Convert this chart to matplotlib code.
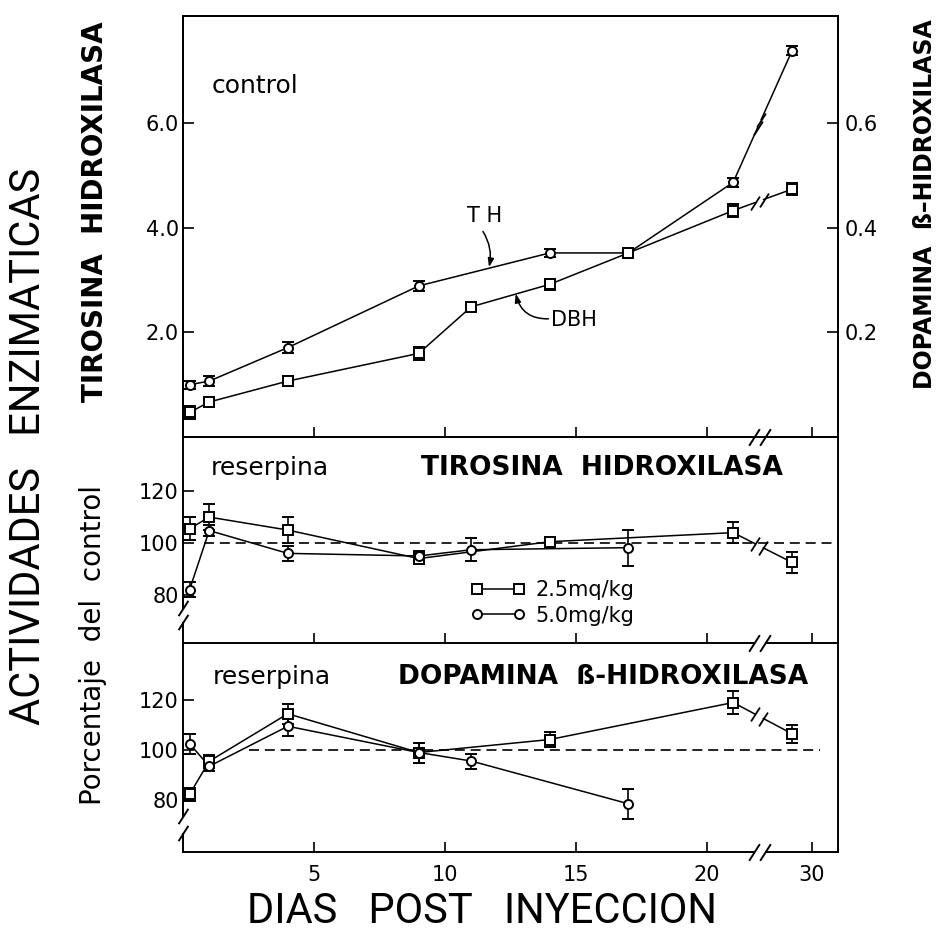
import numpy as np
import matplotlib
matplotlib.use("Agg")
import matplotlib.pyplot as plt
from matplotlib.path import Path

plt.rcParams['font.family'] = ['DejaVu Sans']

# ---------------- data ----------------
# top panel (control)
th_days = [0.25, 1, 4, 9, 14, 17, 21, 27]
th_vals = [1.00, 1.07, 1.71, 2.89, 3.52, 3.52, 4.87, 7.39]
th_err = [0.08, 0.10, 0.10, 0.10, 0.08, 0.08, 0.08, 0.08]

dbh_days = [0.25, 1, 4, 9, 11, 14, 17, 21, 27]
dbh_vals = [0.047, 0.067, 0.107, 0.160, 0.249, 0.292, 0.352, 0.433, 0.474]
dbh_err = [0.012, 0.010, 0.010, 0.012, 0.010, 0.010, 0.008, 0.012, 0.012]

# middle panel (reserpina, tirosina hidroxilasa, % del control)
th25_days = [0.25, 1, 4, 9, 14, 21, 27]
th25_vals = [105.5, 110, 105, 94, 100.5, 104, 92.5]
th25_err = [4.5, 5, 5, 2, 2, 4, 4]
th50_days = [0.25, 1, 4, 9, 11, 17]
th50_vals = [82, 104.8, 96, 95, 97.4, 98.2]
th50_err = [3, 2, 3, 2, 4.5, 7]

# bottom panel (reserpina, dopamina b-hidroxilasa, % del control)
db25_days = [0.25, 1, 4, 9, 14, 21, 27]
db25_vals = [82.3, 95.5, 114.5, 99, 104.2, 119, 106.5]
db25_err = [2.5, 2.5, 4, 4, 3, 4.5, 3.5]
db50_days = [0.25, 1, 4, 9, 11, 17]
db50_vals = [102.5, 93.5, 109.5, 99, 95.6, 78.5]
db50_err = [4, 2, 4, 4, 3, 6]

x_ticks = [5, 10, 15, 20, 30]
x_ticklabels = ['5', '10', '15', '20', '30']
th_ticks = [2, 4, 6]
dbh_ticks = [0.2, 0.4, 0.6]
pct_ticks = [80, 100, 120]
legend_labels = ['2.5mq/kg', '5.0mg/kg']

# ---------------- broken time axis ----------------
BRK = 22.0
K = 0.25


def fwd(d):
    d = np.asarray(d, float)
    return np.where(d <= BRK, d, BRK + (d - BRK) * K)


def inv(p):
    p = np.asarray(p, float)
    return np.where(p <= BRK, p, BRK + (p - BRK) / K)


LW = 1.1
SPW = 1.4
slash = Path([(-0.32, -0.5), (0.32, 0.5)], [Path.MOVETO, Path.LINETO])

fig = plt.figure(figsize=(9.41, 9.47), dpi=100)
L, W = 0.1945, 0.696
ax_top = fig.add_axes([L, 0.5385, W, 0.4446])
ax_mid = fig.add_axes([L, 0.3210, W, 0.2175], sharex=ax_top)
ax_bot = fig.add_axes([L, 0.1003, W, 0.2207], sharex=ax_top)
ax_top.set_xscale('function', functions=(fwd, inv))
ax_top.set_xlim(0, float(inv(25.0)))
ax2 = ax_top.twinx()

ax_top.set_ylim(0, 8.05)
ax2.set_ylim(0, 0.805)
ax_mid.set_ylim(61.4, 140.9)
ax_bot.set_ylim(59.2, 142.8)

for a in (ax_top, ax_mid, ax_bot, ax2):
    a.patch.set_visible(False)
    for s in a.spines.values():
        s.set_linewidth(SPW)


def draw_series(ax, days, vals, errs, marker, ms, half_gap_px=4.5):
    days = np.asarray(days, float)
    vals = np.asarray(vals, float)
    pos = fwd(days)
    xs, ys, brk_x, brk_y = [], [], [], []
    for i in range(len(days)):
        xs.append(days[i]); ys.append(vals[i])
        if i + 1 < len(days) and pos[i] < BRK < pos[i + 1]:
            p0 = ax.transData.transform((days[i], vals[i]))
            p1 = ax.transData.transform((days[i + 1], vals[i + 1]))
            seg = np.hypot(*(p1 - p0))
            t0 = (BRK - pos[i]) / (pos[i + 1] - pos[i])
            dt = half_gap_px / seg
            for side, t in ((0, t0 - dt), (1, t0 + dt)):
                pp = pos[i] + t * (pos[i + 1] - pos[i])
                yv = vals[i] + t * (vals[i + 1] - vals[i])
                xv = float(inv(pp))
                brk_x.append(xv); brk_y.append(yv)
                xs.append(xv); ys.append(yv)
                if side == 0:
                    xs.append(np.nan); ys.append(np.nan)
    ax.plot(xs, ys, color='k', lw=LW, zorder=2)
    if brk_x:
        ax.plot(brk_x, brk_y, ls='none', marker=slash, ms=10, mec='k', mew=1.3, zorder=3)
    ax.errorbar(days, vals, yerr=errs, fmt=marker, ms=ms, mfc='white', mec='k', mew=1.4,
                ecolor='k', elinewidth=1.2, capsize=4.5, capthick=1.6, zorder=4)


draw_series(ax_top, th_days, th_vals, th_err, 'o', 6.5)
draw_series(ax2, dbh_days, dbh_vals, dbh_err, 's', 7)
draw_series(ax_mid, th25_days, th25_vals, th25_err, 's', 7)
draw_series(ax_mid, th50_days, th50_vals, th50_err, 'o', 6.5)
draw_series(ax_bot, db25_days, db25_vals, db25_err, 's', 7)
draw_series(ax_bot, db50_days, db50_vals, db50_err, 'o', 6.5)

# reference lines at 100 %
ax_mid.plot([0.8, float(inv(25.0))], [100, 100], color='k', lw=1.2, dashes=(6, 3.5), zorder=1)
ax_bot.plot([2.5, float(inv(24.3))], [100, 100], color='k', lw=1.2, dashes=(6, 3.5), zorder=1)

# ticks
for a in (ax_top, ax_mid, ax_bot):
    a.set_xticks(x_ticks)
    a.set_xticklabels(x_ticklabels)
    a.tick_params(axis='x', direction='in', length=7, width=1.2, labelbottom=False, top=False)
    a.minorticks_off()
ax_bot.tick_params(axis='x', labelbottom=True, labelsize=15, pad=9)

ax_top.set_yticks(th_ticks)
ax_top.set_yticklabels([f'{v:.1f}' for v in th_ticks])
ax_top.tick_params(axis='y', direction='in', length=8, width=1.2, labelsize=15, pad=3, right=False)
ax2.set_yticks(dbh_ticks)
ax2.set_yticklabels([f'{v:.1f}' for v in dbh_ticks])
ax2.tick_params(axis='y', direction='in', length=8, width=1.2, labelsize=15, pad=5)
for a in (ax_mid, ax_bot):
    a.set_yticks(pct_ticks)
    a.tick_params(axis='y', direction='in', length=8, width=1.2, labelsize=15, pad=3, right=False)
    a.spines['top'].set_visible(False)

# x-axis break marks on each panel bottom spine
for a in (ax_top, ax_mid, ax_bot):
    xl, xr = float(inv(21.78)), float(inv(22.2))
    a.plot([xl, xr], [0, 0], transform=a.get_xaxis_transform(), color='white', lw=4,
           clip_on=False, zorder=6, solid_capstyle='butt')
    a.plot([xl, xr], [0, 0], transform=a.get_xaxis_transform(), ls='none', marker=slash,
           ms=12, mec='k', mew=1.4, clip_on=False, zorder=7)

# y-axis break on percentage panels
for a, (glo, ghi) in ((ax_mid, (69.4, 74.9)), (ax_bot, (67.0, 73.7))):
    lo, hi = a.get_ylim()
    a.spines['left'].set_bounds(ghi, hi)
    a.plot([0, 0], [lo, glo], transform=a.get_yaxis_transform(), color='k', lw=SPW,
           clip_on=False, solid_capstyle='butt', zorder=5)
    a.plot([0, 0], [glo, ghi], transform=a.get_yaxis_transform(), ls='none', marker=slash,
           ms=11, mec='k', mew=1.4, clip_on=False, zorder=7)

# curve labels in top panel
ax_top.text(11.5, 4.22, 'T H', ha='center', va='center', fontsize=15)
ax_top.annotate('', xy=(11.68, 3.25), xytext=(11.45, 3.93),
                arrowprops=dict(arrowstyle='-|>,head_length=0.5,head_width=0.18',
                                connectionstyle='arc3,rad=-0.2', lw=1.1, color='k',
                                shrinkA=0, shrinkB=0))
ax2.text(14.05, 0.224, 'DBH', ha='left', va='center', fontsize=15)
ax2.annotate('', xy=(12.7, 0.274), xytext=(13.95, 0.226),
             arrowprops=dict(arrowstyle='-|>,head_length=0.5,head_width=0.18',
                             connectionstyle='arc3,rad=-0.4', lw=1.1, color='k',
                             shrinkA=0, shrinkB=0))

# panel labels
ax_top.text(0.044, 0.834, 'control', transform=ax_top.transAxes, fontsize=18,
            ha='left', va='center')
ax_mid.text(0.042, 0.85, 'reserpina', transform=ax_mid.transAxes, fontsize=18,
            ha='left', va='center')
ax_mid.text(0.64, 0.85, 'TIROSINA  HIDROXILASA', transform=ax_mid.transAxes, fontsize=19,
            fontweight='bold', ha='center', va='center')
ax_bot.text(0.045, 0.837, 'reserpina', transform=ax_bot.transAxes, fontsize=18,
            ha='left', va='center')
ax_bot.text(0.642, 0.837, 'DOPAMINA  ß-HIDROXILASA', transform=ax_bot.transAxes, fontsize=19,
            fontweight='bold', ha='center', va='center')

# legend
h25, = ax_mid.plot([], [], color='k', lw=LW, marker='s', ms=7, mfc='white', mec='k', mew=1.4)
h50, = ax_mid.plot([], [], color='k', lw=LW, marker='o', ms=6.5, mfc='white', mec='k', mew=1.4)
ax_mid.legend([h25, h50], legend_labels, loc='center left', bbox_to_anchor=(0.44, 0.194),
              frameon=False, numpoints=2, handlelength=2.6, handletextpad=0.5,
              labelspacing=0.25, borderpad=0, borderaxespad=0, fontsize=15)

# axis titles
fig.text(0.030, 0.529, 'ACTIVIDADES   ENZIMATICAS', rotation=90, ha='center', va='center',
         fontsize=30, family=['Roboto', 'DejaVu Sans'], fontweight='normal')
fig.text(0.101, 0.776, 'TIROSINA  HIDROXILASA', rotation=90, ha='center', va='center',
         fontsize=20, fontweight='bold')
fig.text(0.983, 0.784, 'DOPAMINA  ß–HIDROXILASA', rotation=90, ha='center', va='center',
         fontsize=17, fontweight='bold')
fig.text(0.099, 0.319, 'Porcentaje  del  control', rotation=90, ha='center', va='center',
         fontsize=20)
fig.text(0.512, 0.037, 'DIAS   POST   INYECCION', ha='center', va='center', fontsize=30,
         family=['Roboto', 'DejaVu Sans'], fontweight='normal')

fig.savefig('out.png', dpi=100)
